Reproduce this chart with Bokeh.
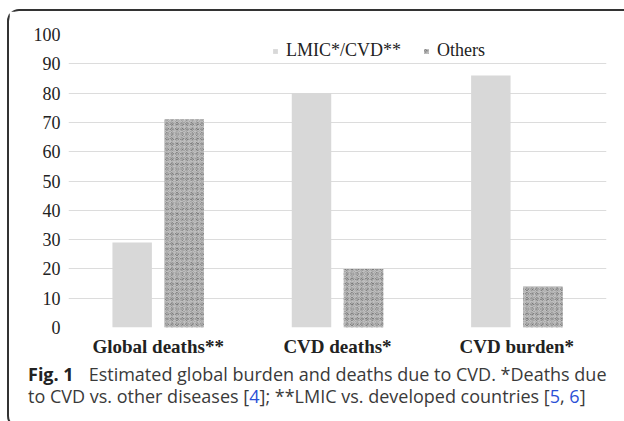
from bokeh.plotting import figure
from bokeh.layouts import column
from bokeh.models import (FactorRange, Range1d, Legend, LegendItem, Div,
                          ColumnDataSource, FixedTicker)
from bokeh.transform import dodge
from bokeh.embed import file_html
from bokeh.resources import INLINE

categories = ["Global deaths**", "CVD deaths*", "CVD burden*"]
lmic_cvd = [29, 80, 86]
others = [71, 20, 14]
series_names = ["LMIC*/CVD**", "Others"]
y_ticks = [0, 10, 20, 30, 40, 50, 60, 70, 80, 90, 100]

src = ColumnDataSource(dict(cat=categories, a=lmic_cvd, b=others))

W = 615  # inner width of the bordered box
p = figure(x_range=FactorRange(*categories), y_range=Range1d(0, 100),
           width=W, height=350, frame_width=538, frame_height=293,
           min_border_left=59, min_border_right=18, min_border_top=23, min_border_bottom=34,
           output_backend="svg", toolbar_location=None, tools="")
p.outline_line_color = None

r1 = p.vbar(x=dodge("cat", -0.145, range=p.x_range), top="a", width=0.22, source=src,
            fill_color="#d8d8d8", line_color=None)
r2 = p.vbar(x=dodge("cat", 0.145, range=p.x_range), top="b", width=0.22, source=src,
            fill_color="#9c9c9c", line_color=None,
            hatch_pattern="ring", hatch_color="#555555", hatch_scale=5, hatch_weight=1)
r3 = p.vbar(x=dodge("cat", 0.145, range=p.x_range), top="b", width=0.22, source=src,
            fill_alpha=0, line_color=None,
            hatch_pattern="spiral", hatch_color="#dcdcdc", hatch_scale=7, hatch_weight=1,
            hatch_alpha=0.8)

p.xgrid.grid_line_color = None
p.ygrid.grid_line_color = "#dcdcdc"
p.yaxis.ticker = FixedTicker(ticks=y_ticks)

for ax in (p.xaxis[0], p.yaxis[0]):
    ax.axis_line_color = None
    ax.major_tick_line_color = None
    ax.minor_tick_line_color = None
    ax.major_tick_out = 0
    ax.major_tick_in = 0

p.yaxis.major_label_text_font = "Liberation Serif"
p.yaxis.major_label_text_font_size = "18px"
p.yaxis.major_label_text_color = "#222222"
p.yaxis.major_label_standoff = 8
p.xaxis.major_label_text_font = "Liberation Serif"
p.xaxis.major_label_text_font_size = "19px"
p.xaxis.major_label_text_font_style = "bold"
p.xaxis.major_label_text_color = "#222222"
p.xaxis.major_label_standoff = 8

legend = Legend(items=[LegendItem(label=series_names[0], renderers=[r1]),
                       LegendItem(label=series_names[1], renderers=[r2, r3])],
                orientation="horizontal", location=(204, 266),
                glyph_width=6, glyph_height=6, label_standoff=8, spacing=22,
                padding=0, margin=0, border_line_color=None, background_fill_alpha=0,
                label_text_font="serif", label_text_font_size="18px",
                label_text_color="#222222")
p.add_layout(legend, "center")

caption_html = (
    '<div style="position:relative;top:-3px">'
    '<span style="font-weight:700;color:#222222">Fig. 1</span>'
    '<span style="margin-left:15px">Estimated global burden and deaths due to CVD. *Deaths due</span><br>'
    'to CVD vs. other diseases [<span style="color:#2a4fd6">4</span>]; '
    '**LMIC vs. developed countries [<span style="color:#2a4fd6">5</span>, '
    '<span style="color:#2a4fd6">6</span>]'
    '</div>'
)
cap = Div(text=caption_html, width=W, height=55,
          styles={"font-family": "'Open Sans', sans-serif", "font-size": "18px",
                  "color": "#3a3a3a", "line-height": "22px", "white-space": "nowrap",
                  "padding-left": "14px", "box-sizing": "border-box"})

layout = column(p, cap, spacing=0,
                styles={"margin-left": "7px", "margin-top": "9px",
                        "border": "2px solid #333333", "border-right": "none",
                        "border-radius": "12px 0 0 12px"})

open("out.html", "w").write(file_html(layout, INLINE))
